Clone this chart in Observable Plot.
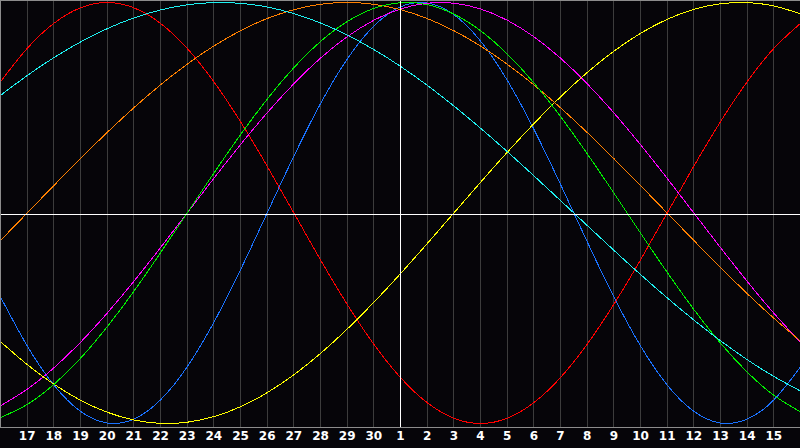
<!DOCTYPE html>
<html><head><meta charset="utf-8">
<script src="https://cdn.jsdelivr.net/npm/d3@7"></script>
<script src="https://cdn.jsdelivr.net/npm/@observablehq/plot@0.6"></script>
<style>html,body{margin:0;padding:0;background:#060509;overflow:hidden}</style>
</head><body><div id="chart"></div>
<script>
// Day labels along the bottom (previous month 17–30, current month 1–15)
const dayLabels = [17,18,19,20,21,22,23,24,25,26,27,28,29,30,1,2,3,4,5,6,7,8,9,10,11,12,13,14,15];

// Daily values (-1..1), one per day from the left edge to the right edge
const physical = [-0.3984,-0.6311,-0.8170,-0.9423,-0.9977,-0.9791,-0.8879,-0.7308,-0.5196,-0.2698,0,0.2698,0.5196,0.7308,0.8879,0.9791,0.9977,0.9423,0.8170,0.6311,0.3984,0.1362,-0.1362,-0.3984,-0.6311,-0.8170,-0.9423,-0.9977,-0.9791,-0.8879,-0.7308];
const emotional = [0.6235,0.7818,0.9010,0.9749,1,0.9749,0.9010,0.7818,0.6235,0.4339,0.2225,0,-0.2225,-0.4339,-0.6235,-0.7818,-0.9010,-0.9749,-1,-0.9749,-0.9010,-0.7818,-0.6235,-0.4339,-0.2225,0,0.2225,0.4339,0.6235,0.7818,0.9010];
const intellectual = [-0.9718,-0.9096,-0.8146,-0.6901,-0.5406,-0.3717,-0.1893,0,0.1893,0.3717,0.5406,0.6901,0.8146,0.9096,0.9718,0.9989,0.9898,0.9450,0.8660,0.7557,0.6182,0.4582,0.2817,0.0951,-0.0951,-0.2817,-0.4582,-0.6182,-0.7557,-0.8660,-0.9450];
const intuitive = [-0.9158,-0.8372,-0.7357,-0.6142,-0.4759,-0.3247,-0.1646,0,0.1646,0.3247,0.4759,0.6142,0.7357,0.8372,0.9158,0.9694,0.9966,0.9966,0.9694,0.9158,0.8372,0.7357,0.6142,0.4759,0.3247,0.1646,0,-0.1646,-0.3247,-0.4759,-0.6142];
const aesthetic = [-0.6111,-0.7199,-0.8133,-0.8893,-0.9464,-0.9834,-0.9993,-0.9940,-0.9675,-0.9203,-0.8535,-0.7686,-0.6673,-0.5517,-0.4244,-0.2881,-0.1456,0,0.1456,0.2881,0.4244,0.5517,0.6673,0.7686,0.8535,0.9203,0.9675,0.9940,0.9993,0.9834,0.9464];
const awareness = [-0.1305,0,0.1305,0.2588,0.3827,0.5,0.6088,0.7071,0.7934,0.8660,0.9239,0.9659,0.9914,1,0.9914,0.9659,0.9239,0.8660,0.7934,0.7071,0.6088,0.5,0.3827,0.2588,0.1305,0,-0.1305,-0.2588,-0.3827,-0.5,-0.6088];
const spiritual = [0.5586,0.6529,0.7379,0.8125,0.8757,0.9267,0.9646,0.9890,0.9996,0.9960,0.9786,0.9473,0.9028,0.8456,0.7765,0.6966,0.6068,0.5085,0.4031,0.2921,0.1769,0.0592,-0.0592,-0.1769,-0.2921,-0.4031,-0.5085,-0.6068,-0.6966,-0.7765,-0.8456];

const seriesNames = ["physical","emotional","intuitive","aesthetic","awareness","intellectual","spiritual"];
const seriesValues = [physical, emotional, intuitive, aesthetic, awareness, intellectual, spiritual];
const seriesColors = ["#1a72ff","#ff0000","#ff00ff","#ffff00","#ff8000","#00f000","#1ef0f0"];

const rows = seriesNames.flatMap((name, s) =>
  seriesValues[s].map((v, j) => ({series: name, day: j - 15, value: v})));
const tickPos = dayLabels.map((d, j) => j - 14);

const chart = Plot.plot({
  width: 800, height: 448,
  marginLeft: 0, marginRight: 0, marginTop: 2, marginBottom: 25,
  style: {background: "#060509", color: "#fff", fontFamily: "DejaVu Sans", fontSize: "12px", fontWeight: "bold"},
  x: {domain: [-15, 15], axis: null},
  y: {domain: [-1, 1], axis: null},
  color: {domain: seriesNames, range: seriesColors},
  marks: [
    Plot.ruleX(tickPos, {stroke: "#3c3c3c", insetTop: -2, insetBottom: -4, shapeRendering: "crispEdges"}),
    Plot.line(rows, {x: "day", y: "value", z: "series", stroke: "series", curve: "natural", strokeWidth: 1, shapeRendering: "crispEdges"}),
    Plot.ruleY([0], {stroke: "#ffffff", dy: 1.5, shapeRendering: "crispEdges"}),
    Plot.ruleX([0], {stroke: "#ffffff", insetTop: -2, insetBottom: -4, shapeRendering: "crispEdges"}),
    Plot.frame({stroke: "#8c8c8c", insetTop: -2, insetBottom: -4, shapeRendering: "crispEdges"}),
    Plot.text(tickPos, {x: d => d, frameAnchor: "bottom", dy: 16, text: (d, i) => String(dayLabels[i]), fill: "#ffffff"})
  ]
});
document.getElementById("chart").append(chart);
</script>
</body></html>
